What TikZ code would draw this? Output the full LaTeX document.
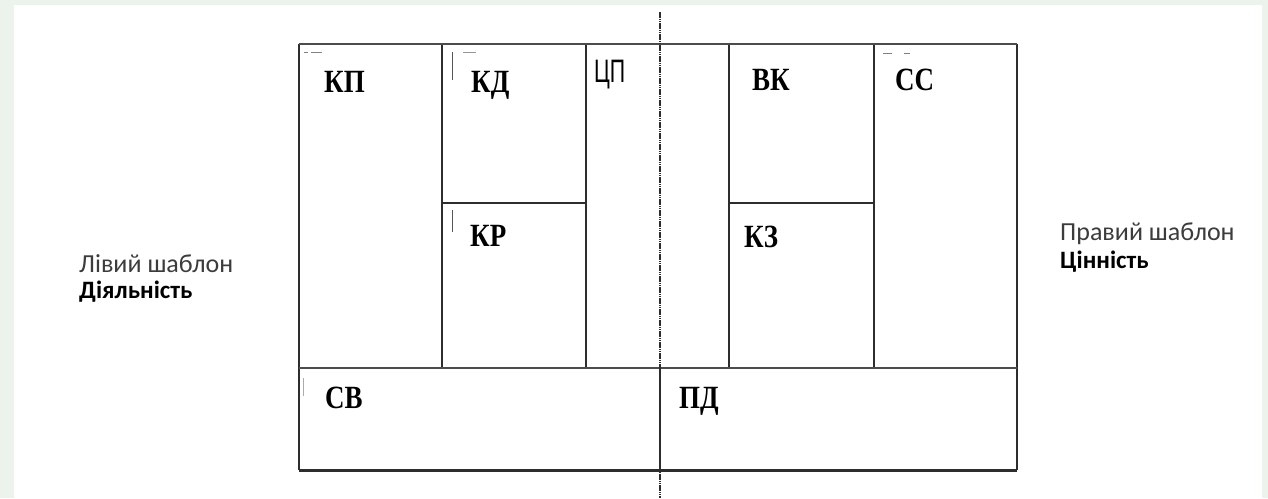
\documentclass[tikz,border=0pt]{standalone}
\usepackage{fontspec}
\usepackage{graphicx}
\setmainfont{Liberation Serif}
\newfontfamily\calib{Carlito}
\newfontfamily\lsans{Liberation Sans}
\definecolor{edgebg}{RGB}{236,243,236}
\definecolor{ink}{RGB}{45,45,45}
\definecolor{txtgray}{RGB}{60,60,60}
\begin{document}
\begin{tikzpicture}[x=1pt,y=-1pt,
  cellline/.style={line width=1.3pt,draw=ink},
  topline/.style={line width=2.2pt,draw=ink!85},
  botline/.style={line width=3pt,draw=ink},
  midline/.style={line width=2pt,draw=ink!85},
  axis/.style={line width=1.2pt,draw=ink,dash pattern=on 1.5pt off 0.7pt},
  tick/.style={line width=1pt,draw=ink!80},
  lab/.style={anchor=base west,inner sep=0pt,font=\bfseries\fontsize{27}{27}\selectfont},
  side/.style={anchor=base west,inner sep=0pt,font=\calib\fontsize{26}{26}\selectfont,text=txtgray},
  sideb/.style={anchor=base west,inner sep=0pt,font=\calib\bfseries\fontsize{25}{25}\selectfont}]
\useasboundingbox (0,0) rectangle (1268,498);
\fill[edgebg] (0,0) rectangle (1268,498);
\fill[white] (14,5) rectangle (1262,498);
% frame coordinates
\coordinate (tl) at (299,44);
\coordinate (tr) at (1017,44);
\coordinate (ml) at (299,368);
\coordinate (mr) at (1017,368);
\coordinate (bl) at (299,470);
\coordinate (br) at (1017,470);
% vertical lines
\draw[cellline] (299,44) -- (299,470);
\draw[cellline] (1017,44) -- (1017,470);
\draw[cellline] (442,44) -- (442,368);
\draw[cellline] (586,44) -- (586,368);
\draw[cellline] (729,44) -- (729,368);
\draw[cellline] (874,44) -- (874,368);
\draw[cellline] (660,368) -- (660,470);
% inner horizontals
\draw[cellline] (442,203) -- (586,203);
\draw[cellline] (729,203) -- (874,203);
% borders
\draw[topline] (tl) -- (tr);
\draw[midline] (ml) -- (mr);
\draw[botline] (bl) -- (br);
% centre axis
\coordinate (axtop) at (660,12);
\coordinate (axbot) at (660,498);
\draw[axis] (axtop) -- (axbot);
% small ticks
\draw[tick] (452,52) -- (452,80);
\draw[tick] (452,210) -- (452,232);
\draw[tick,draw=ink!40] (303,378) -- (303,396);
\draw[tick,draw=ink!60] (304,52) -- (308,52) (311,52) -- (322,52);
\draw[tick,draw=ink!50] (463,52) -- (476,52);
\draw[tick,draw=ink!60] (883,53) -- (892,53) (904,53) -- (910,53);
% labels
\node[lab] (kp) at (324,92) {\scalebox{1}[1.2]{КП}};
\node[lab] (kd) at (471,92) {\scalebox{1}[1.2]{КД}};
\node[anchor=base west,inner sep=0pt,font=\lsans\fontsize{26}{26}\selectfont] (cp) at (594,82) {\scalebox{0.82}[1.25]{ЦП}};
\node[lab] (vk) at (752,90) {\scalebox{1}[1.2]{ВК}};
\node[lab] (ss) at (895,90) {\scalebox{1}[1.2]{СС}};
\node[lab] (kr) at (470,246) {\scalebox{1}[1.2]{КР}};
\node[lab] (kz) at (744,247) {\scalebox{1}[1.2]{КЗ}};
\node[lab] (sv) at (325,408) {\scalebox{1}[1.2]{СВ}};
\node[lab] (pd) at (679,408) {\scalebox{1}[1.2]{ПД}};
% side texts
\node[side] (lt1) at (79,272) {Лівий шаблон};
\node[sideb] (lt2) at (79,298) {Діяльність};
\node[side] (rt1) at (1060,240) {Правий шаблон};
\node[sideb] (rt2) at (1060,268) {Цінність};
\end{tikzpicture}
\end{document}
